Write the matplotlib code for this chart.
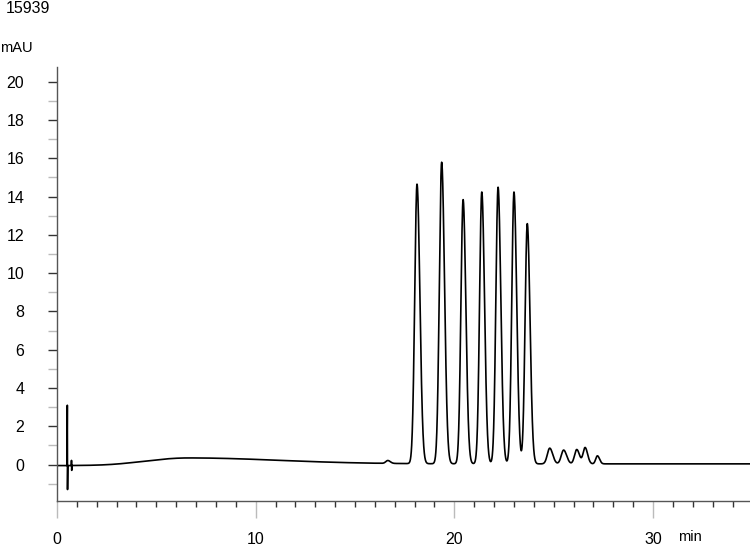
import numpy as np
import matplotlib
matplotlib.use('Agg')
import matplotlib.pyplot as plt
from matplotlib.ticker import MultipleLocator

plt.rcParams['font.family'] = ['Liberation Sans', 'DejaVu Sans']

# peaks (retention time in min, height in mAU)
peak_times = [16.65, 18.12, 19.36, 20.44, 21.38, 22.20, 23.00, 23.67,
              24.80, 25.50, 26.16, 26.58, 27.20]
peak_heights = [0.15, 14.6, 15.75, 13.8, 14.2, 14.45, 14.2, 12.55,
                0.82, 0.72, 0.75, 0.85, 0.42]
peak_widths = [0.10, 0.115, 0.115, 0.11, 0.11, 0.11, 0.11, 0.11,
               0.12, 0.12, 0.11, 0.10, 0.085]
tailing = 1.25

# broad baseline hump
hump_time = 6.6
hump_height = 0.31
hump_left = 1.9
hump_right = 4.5
offset_before = -0.05
offset_after = 0.04

# injection artefact near t = 0.5 min
spike_t = [0.50, 0.52, 0.53, 0.545, 0.56, 0.72, 0.73, 0.74, 0.75]
spike_v = [-0.05, 3.1, -1.3, -0.05, -0.05, -0.05, 0.22, -0.3, -0.05]

t = np.linspace(0, 34.9, 5000)
sig = np.where(t < hump_time,
               hump_height * np.exp(-(t - hump_time) ** 2 / (2 * hump_left ** 2)),
               hump_height * np.exp(-(t - hump_time) ** 2 / (2 * hump_right ** 2)))
sig = sig + offset_before + (offset_after - offset_before) / (1 + np.exp(-(t - 3.5) * 1.5))
for tc, h, w in zip(peak_times, peak_heights, peak_widths):
    ws = np.where(t < tc, w, w * tailing)
    sig = sig + h * np.exp(-(t - tc) ** 2 / (2 * ws ** 2))

keep = (t < spike_t[0]) | (t > spike_t[-1])
tt = np.concatenate([t[keep], spike_t])
yy = np.concatenate([sig[keep], spike_v])
order = np.argsort(tt)
tt, yy = tt[order], yy[order]

fig = plt.figure(figsize=(7.5, 5.46), dpi=100)
ax = fig.add_axes([57 / 750, 1 - 501 / 546, 1 - 57 / 750, (501 - 67) / 546])
ax.plot(tt, yy, color='black', lw=1.2)

ax.set_xlim(0, 34.88)
ax.set_ylim(-1.9, 20.77)

for s in ['top', 'right']:
    ax.spines[s].set_visible(False)
for s in ['left', 'bottom']:
    ax.spines[s].set_linewidth(1.0)
    ax.spines[s].set_color('#555555')

ax.xaxis.set_major_locator(MultipleLocator(10))
ax.xaxis.set_minor_locator(MultipleLocator(1))
ax.yaxis.set_minor_locator(MultipleLocator(1))
ax.set_yticks(range(0, 21, 2))

ax.tick_params(axis='x', which='major', direction='out', length=12.5, width=1,
               color='#bbbbbb', labelsize=11.5, pad=10)
ax.tick_params(axis='x', which='minor', direction='out', length=4.5, width=1,
               color='#333333')
ax.tick_params(axis='y', which='major', direction='out', length=6.5, width=1,
               color='#333333', labelsize=11.5, pad=17)
ax.tick_params(axis='y', which='minor', direction='out', length=6.5, width=1,
               color='#bbbbbb')
ax.xaxis.get_major_ticks()[0].tick1line.set_color('#555555')

fig.text(6 / 750, 1 - 1 / 546, '15939', fontsize=11.5, va='top', ha='left')
fig.text(0, 1 - 41 / 546, 'mAU', fontsize=10.5, va='top', ha='left')
fig.text(690 / 750, 1 - 537 / 546, 'min', fontsize=10.5, va='center', ha='center')

fig.savefig('out.png', dpi=100)
